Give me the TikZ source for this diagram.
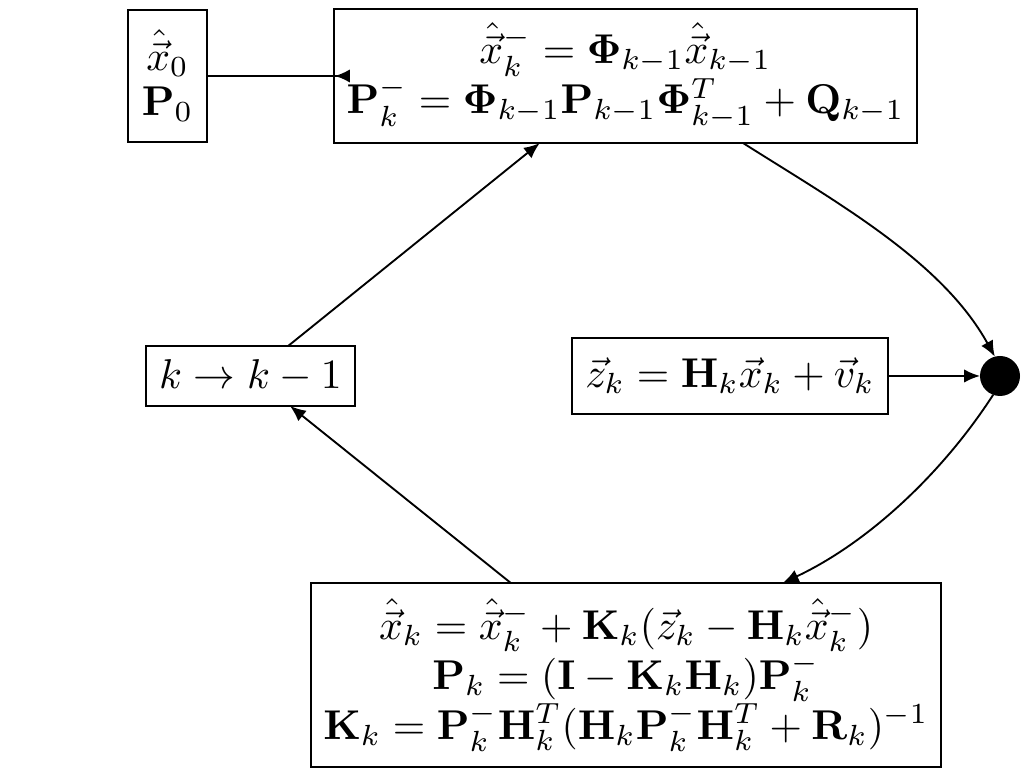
\documentclass[tikz,border=0pt]{standalone}
\usepackage{amsmath}
\usetikzlibrary{arrows.meta,calc}
\begin{document}
\begin{tikzpicture}[x=0.24pt,y=-0.24pt,
  box/.style={draw,line width=0.45pt,align=center,inner sep=0pt,outer sep=0pt},
  arr/.style={line width=0.45pt,-{Latex[length=3.8pt,width=3.2pt]}},
  rarr/.style={line width=0.45pt,-{Latex[reversed,length=3.6pt,width=3.2pt]}},
]
\useasboundingbox (0,0) rectangle (1021,769);
\node[box,minimum width=19pt,minimum height=31.7pt] (x0) at (167.5,76)
  {$\hat{\vec{x}}_0$\\[-1.2pt]$\mathbf{P}_0$};
\node[box,minimum width=140pt,minimum height=32.2pt] (top) at (625.5,76)
  {$\hat{\vec{x}}_k^- = \mathbf{\Phi}_{k-1}\hat{\vec{x}}_{k-1}$\\
   $\mathbf{P}_k^- = \mathbf{\Phi}_{k-1}\mathbf{P}_{k-1}\mathbf{\Phi}_{k-1}^T + \mathbf{Q}_{k-1}$};
\node[box,minimum width=50.2pt,minimum height=14.4pt] (k) at (250.5,376)
  {$k \to k-1$};
\node[box,minimum width=75.8pt,minimum height=18.2pt] (z) at (730,376)
  {$\vec{z}_k = \mathbf{H}_k\vec{x}_k + \vec{v}_k$};
\node[circle,fill,inner sep=0pt,outer sep=0pt,minimum size=9.6pt] (dot) at (1000,376) {};
\node[box,minimum width=151.2pt,minimum height=44.2pt] (bot) at (626,675)
  {$\hat{\vec{x}}_k = \hat{\vec{x}}_k^- + \mathbf{K}_k(\vec{z}_k - \mathbf{H}_k\hat{\vec{x}}_k^-)$\\
   $\mathbf{P}_k = (\mathbf{I} - \mathbf{K}_k\mathbf{H}_k)\mathbf{P}_k^-$\\
   $\mathbf{K}_k = \mathbf{P}_k^-\mathbf{H}_k^T(\mathbf{H}_k\mathbf{P}_k^-\mathbf{H}_k^T + \mathbf{R}_k)^{-1}$};
\draw[rarr] (x0.east) -- ($(top.west)+(16,0)$);
\draw[arr] ($(top.south west)!0.7016!(top.south east)$) .. controls +(93,59) and +(-53,-96) .. (dot.105);
\draw[arr] (z.east) -- (dot.west);
\draw[arr] (dot.250) .. controls +(-51,79) and +(85,-40) .. ($(bot.north west)!0.749!(bot.north east)$);
\draw[arr] ($(bot.north west)!0.317!(bot.north east)$) -- ($(k.south west)!0.689!(k.south east)$);
\draw[arr] ($(k.north west)!0.68!(k.north east)$) -- ($(top.south west)!0.353!(top.south east)$);
\end{tikzpicture}
\end{document}
